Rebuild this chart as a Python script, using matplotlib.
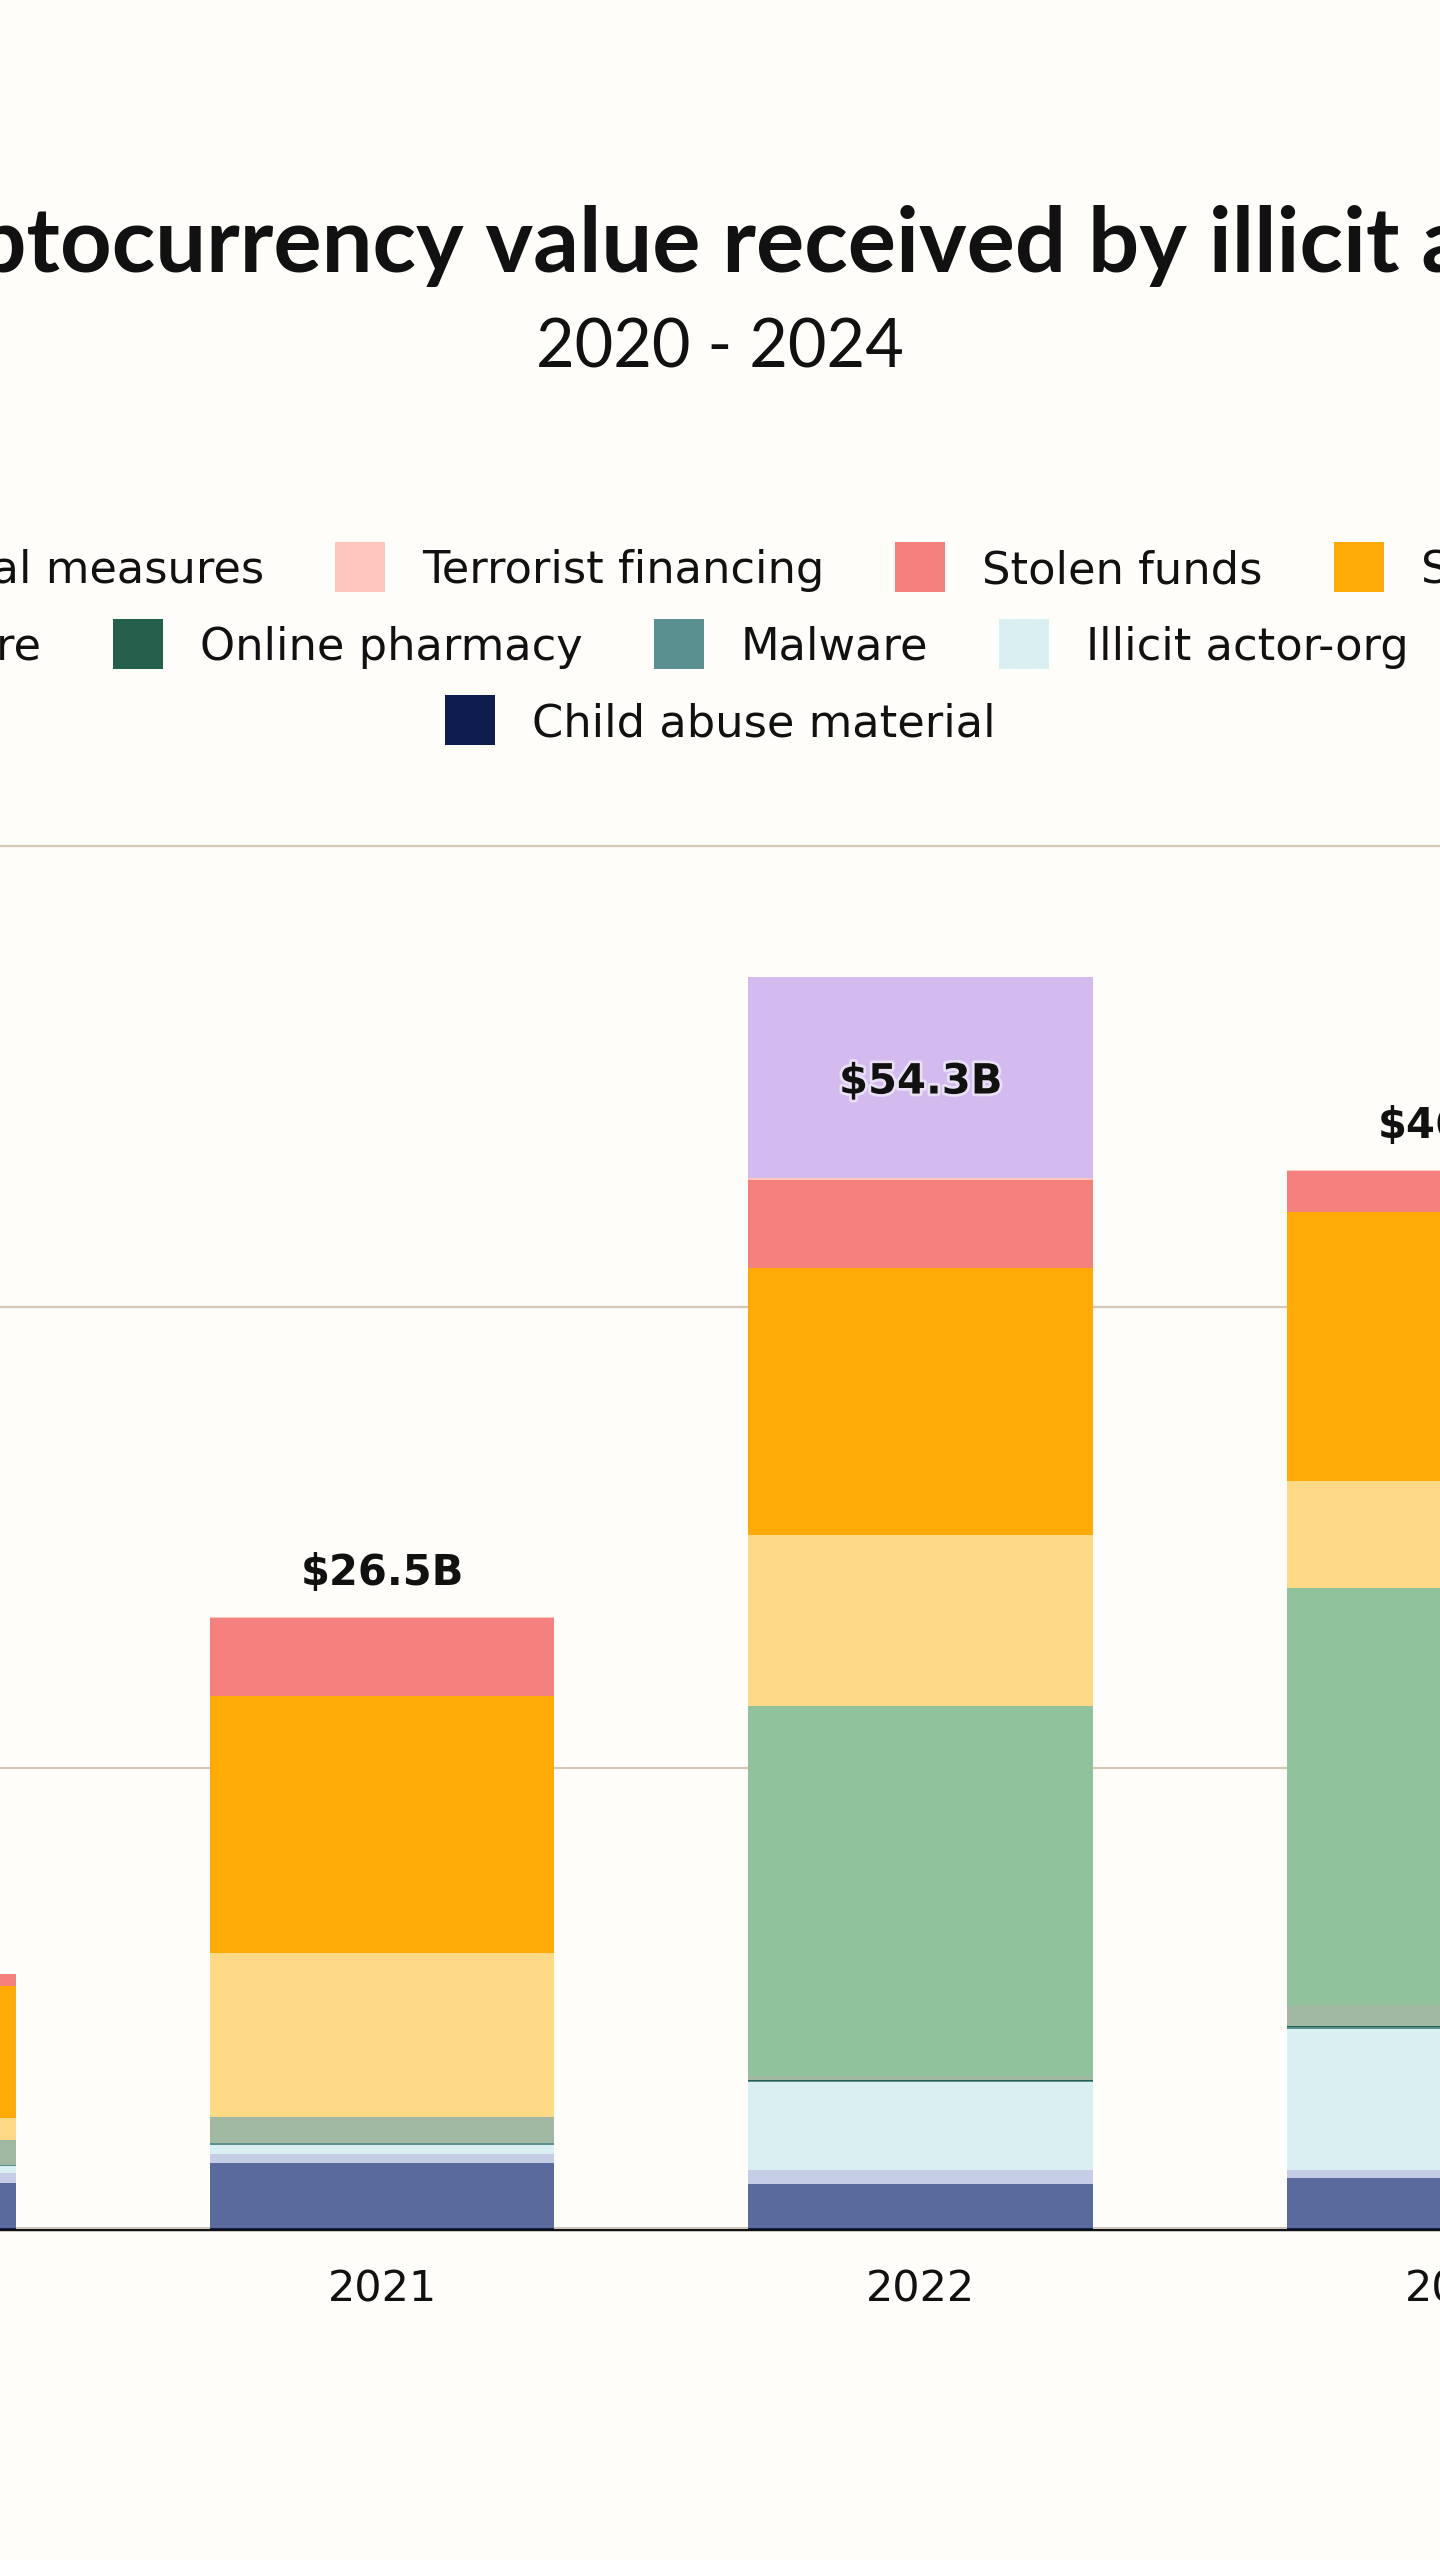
import matplotlib
matplotlib.use("Agg")  # sem interface gráfica, só salva o arquivo
import matplotlib.pyplot as plt
from matplotlib.patches import Rectangle
import matplotlib.patheffects as pe
import numpy as np

# ==========================================================================
# Dados (bilhões de US$)
# ==========================================================================

anos = ["2020", "2021", "2022", "2023", "2024"]

sanctioned_jurisdiction = [0.0, 0.0, 8.71, 0.0, 0.0]
special_measures = [0.0, 0.0, 0.0, 0.0, 1.7]
terrorist_financing = [0.0, 0.02, 0.10, 0.05, 0.05]
stolen_funds = [0.50, 3.40, 3.80, 1.78, 2.2]
scam = [5.75, 11.15, 11.62, 11.67, 9.9]
cybercriminal_admin = [0.94, 7.10, 7.42, 4.64, 3.0]
sanctioned_entity = [0.0, 0.0, 16.05, 18.10, 15.8]
ransomware = [1.08, 1.13, 0.15, 0.90, 0.8]
online_pharmacy = [0.02, 0.03, 0.04, 0.07, 0.05]
malware = [0.05, 0.05, 0.06, 0.08, 0.1]
illicit_actor_org = [0.30, 0.39, 3.83, 6.10, 5.0]
fraud_shop = [0.43, 0.39, 0.58, 0.35, 0.3]
darknet_market = [1.97, 2.86, 1.94, 2.20, 2.0]
child_abuse = [0.01, 0.01, 0.01, 0.01, 0.01]

# ordem de empilhamento: de baixo para cima
series = [
    ("Child abuse material", child_abuse, "#0f1c4e"),
    ("Darknet market", darknet_market, "#5a6a9c"),
    ("Fraud shop", fraud_shop, "#c6cde6"),
    ("Illicit actor-org", illicit_actor_org, "#daeff2"),
    ("Malware", malware, "#5a9090"),
    ("Online pharmacy", online_pharmacy, "#24604c"),
    ("Ransomware", ransomware, "#a1b8a2"),
    ("Sanctioned entity", sanctioned_entity, "#90c29c"),
    ("Cybercriminal administrator", cybercriminal_admin, "#fed986"),
    ("Scam", scam, "#ffaa06"),
    ("Stolen funds", stolen_funds, "#f4817d"),
    ("Terrorist financing", terrorist_financing, "#ffc6bd"),
    ("Special measures", special_measures, "#a47fd6"),
    ("Sanctioned jurisdiction", sanctioned_jurisdiction, "#d3baef"),
]
cores = {nome: cor for nome, _, cor in series}

# legenda em três linhas (ordem do gráfico original)
legenda = [
    ["Sanctioned jurisdiction", "Special measures", "Terrorist financing",
     "Stolen funds", "Scam", "Cybercriminal administrator"],
    ["Sanctioned entity", "Ransomware", "Online pharmacy", "Malware",
     "Illicit actor-org", "Fraud shop", "Darknet market"],
    ["Child abuse material"],
]

# ==========================================================================
# Figura
# ==========================================================================

W, H = 1440, 2560
FUNDO = "#fffdf9"
PX_POR_B = 23.05
BASE_Y = 2228.7

fig = plt.figure(figsize=(W / 100, H / 100), dpi=100, facecolor=FUNDO)

# eixo maior que a figura: o gráfico aparece recortado
x_esq = 382 - 1.5 * 538.7
x_dir = 382 + 3.5 * 538.7
y_max = 62
ax = fig.add_axes([x_esq / W, (H - BASE_Y) / H,
                   (x_dir - x_esq) / W, y_max * PX_POR_B / H])
ax.set_facecolor(FUNDO)

x = np.arange(len(anos))
base = np.zeros(len(anos))
for nome, valores, cor in series:
    ax.bar(x, valores, width=0.64, bottom=base, color=cor, linewidth=0, zorder=2)
    base = base + np.array(valores)
totais = base

ax.set_xlim(-0.5, 4.5)
ax.set_ylim(0, y_max)
ax.set_yticks([0, 20, 40, 60])
ax.set_yticklabels(["$0B", "$20B", "$40B", "$60B"])
ax.grid(axis="y", color="#d6c8b6", linewidth=1.6, zorder=0)
ax.axhline(0, color="#111111", linewidth=2.5, zorder=1, clip_on=False)
for lado in ax.spines.values():
    lado.set_visible(False)
ax.set_xticks(x)
ax.set_xticklabels(anos, fontsize=31, color="#111111", family="DejaVu Sans")
ax.tick_params(axis="x", length=0, pad=29)
ax.tick_params(axis="y", length=0)

# rótulos com o total de cada barra
for i, total in enumerate(totais):
    dentro = total > 50
    txt = ax.annotate(f"${total:.1f}B", (i, total),
                      xytext=(0, -84 if dentro else 23), textcoords="offset points",
                      ha="center", va="baseline", fontsize=30, fontweight="bold",
                      family="DejaVu Sans", color="#111111", zorder=5)
    if dentro:
        txt.set_path_effects([pe.withStroke(linewidth=4, foreground="#e9e0f6")])

# título e subtítulo
fig.text(0.5, 1 - 272 / H, "Total cryptocurrency value received by illicit addresses",
         ha="center", va="baseline", fontsize=65, fontweight="bold",
         family="Lato", color="#111111")
fig.text(0.5, 1 - 368 / H, "2020 - 2024", ha="center", va="baseline",
         fontsize=48, family="Lato", color="#111111")

# ==========================================================================
# Legenda desenhada à mão (linhas centralizadas, estilo "flow")
# ==========================================================================

FS_LEG = 32.2
QUAD = 50
GAP_TXT = 37
GAP_ITEM = 71

fig.canvas.draw()
renderer = fig.canvas.get_renderer()


def largura(texto):
    t = fig.text(0, 0, texto, fontsize=FS_LEG, family="DejaVu Sans")
    w = t.get_window_extent(renderer).width
    t.remove()
    return w


# (item de referência, x do quadrado desse item; None = centralizar)
ancoras = [("Terrorist financing", 335), ("Online pharmacy", 113), (None, None)]
centros_y = [566.7, 643.7, 720.0]

for linha, (ref, x_ref), yc in zip(legenda, ancoras, centros_y):
    larg = [largura(n) for n in linha]
    if ref is None:
        total = sum(QUAD + GAP_TXT + w for w in larg) + GAP_ITEM * (len(linha) - 1)
        k, x_ref = 0, 720 - total / 2
    else:
        k = linha.index(ref)
    xs = [0.0] * len(linha)
    xs[k] = x_ref
    for i in range(k + 1, len(linha)):
        xs[i] = xs[i - 1] + QUAD + GAP_TXT + larg[i - 1] + GAP_ITEM
    for i in range(k - 1, -1, -1):
        xs[i] = xs[i + 1] - GAP_ITEM - larg[i] - GAP_TXT - QUAD
    for nome, xq in zip(linha, xs):
        fig.add_artist(Rectangle((xq / W, 1 - (yc + QUAD / 2) / H), QUAD / W, QUAD / H,
                                 transform=fig.transFigure, facecolor=cores[nome],
                                 edgecolor="none"))
        fig.text((xq + QUAD + GAP_TXT) / W, 1 - (yc + 16.3) / H, nome,
                 va="baseline", ha="left", fontsize=FS_LEG, family="DejaVu Sans",
                 color="#111111")

fig.savefig("out.png", dpi=100, facecolor=FUNDO)
plt.close(fig)
